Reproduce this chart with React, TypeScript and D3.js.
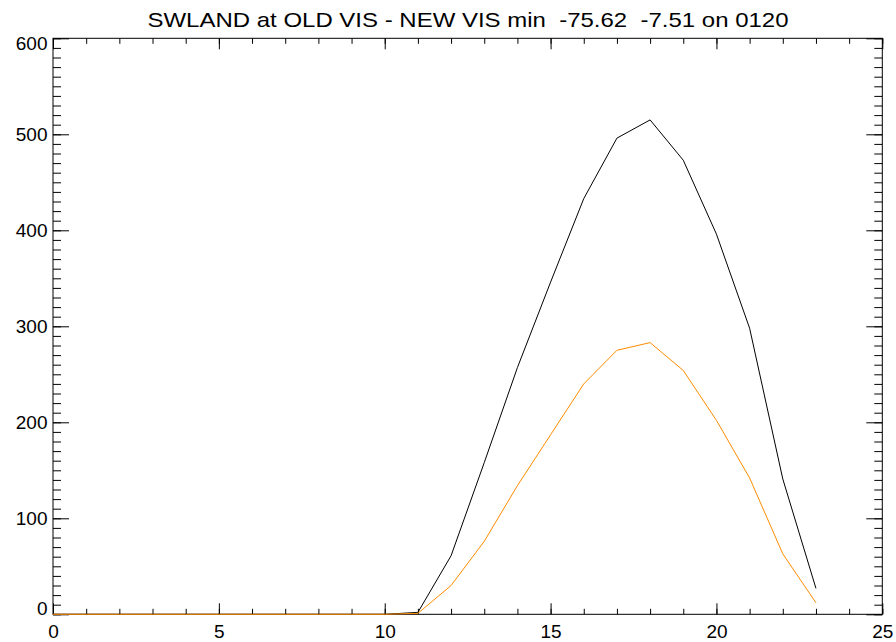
import React, { useEffect, useRef } from 'react';
import * as d3 from 'd3';

// hours 0..23
const hours = d3.range(0, 24);
// OLD VIS (black) and NEW VIS (orange)
const oldVis = [0, 0, 0, 0, 0, 0, 0, 0, 0, 0, 0, 2, 61, 158, 257, 346, 433, 496, 515, 473, 396, 298, 141, 27];
const newVis = [0, 0, 0, 0, 0, 0, 0, 0, 0, 0, 0, 1, 30, 76, 134, 187, 240, 275, 283, 254, 202, 142, 63, 12];

const xMajor = [0, 5, 10, 15, 20, 25];
const yMajor = [0, 100, 200, 300, 400, 500, 600];
const title = 'SWLAND at OLD VIS - NEW VIS min  -75.62  -7.51 on 0120';

const width = 896;
const height = 642;

export default function App() {
  const svgRef = useRef<SVGSVGElement | null>(null);

  useEffect(() => {
    if (!svgRef.current) return;
    const svg = d3.select(svgRef.current);
    svg.selectAll('*').remove();

    const margin = { top: 38.3, right: width - 882.3, bottom: height - 614.3, left: 53 };
    const font = '"Liberation Sans", Arial, Helvetica, sans-serif';

    const x = d3.scaleLinear().domain([0, 25]).range([margin.left, width - margin.right]);
    const y = d3.scaleLinear().domain([0, 600]).range([height - margin.bottom, margin.top]);

    // title (IDL's hershey-ish font is wider, so stretch it)
    svg
      .append('text')
      .attr('x', 468)
      .attr('y', 27)
      .attr('text-anchor', 'middle')
      .attr('font-family', font)
      .attr('font-size', 21)
      .attr('textLength', 641)
      .attr('lengthAdjust', 'spacingAndGlyphs')
      .attr('xml:space', 'preserve')
      .style('white-space', 'pre')
      .text(title);

    const styleAxis = (g: any) => {
      g.select('.domain').remove();
      g.selectAll('line').attr('stroke', '#000');
      g.selectAll('text').attr('font-family', font).attr('font-size', 19).attr('fill', '#000');
    };

    // bottom axis: major + minor
    svg
      .append('g')
      .attr('transform', `translate(0, ${y(0)})`)
      .call(d3.axisBottom(x).tickValues(xMajor).tickSize(-11).tickSizeOuter(0).tickPadding(10.5).tickFormat(d3.format('d')))
      .call(styleAxis);
    svg
      .append('g')
      .attr('transform', `translate(0, ${y(0)})`)
      .call(d3.axisBottom(x).tickValues(d3.range(0, 26)).tickSize(-5.5).tickSizeOuter(0).tickFormat(() => ''))
      .call(styleAxis);

    // top axis (no labels)
    svg
      .append('g')
      .attr('transform', `translate(0, ${y(600)})`)
      .call(d3.axisTop(x).tickValues(xMajor).tickSize(-11).tickSizeOuter(0).tickFormat(() => ''))
      .call(styleAxis);
    svg
      .append('g')
      .attr('transform', `translate(0, ${y(600)})`)
      .call(d3.axisTop(x).tickValues(d3.range(0, 26)).tickSize(-5.5).tickSizeOuter(0).tickFormat(() => ''))
      .call(styleAxis);

    // left axis
    const left = svg
      .append('g')
      .attr('transform', `translate(${x(0)}, 0)`)
      .call(d3.axisLeft(y).tickValues(yMajor).tickSize(-16).tickSizeOuter(0).tickPadding(5.5).tickFormat(d3.format('d')))
      .call(styleAxis);
    // nudge end labels like the original
    left.selectAll('text').attr('dy', (d: any) => (d === 0 ? '0.0em' : d === 600 ? '0.6em' : '0.35em'));
    svg
      .append('g')
      .attr('transform', `translate(${x(0)}, 0)`)
      .call(d3.axisLeft(y).tickValues(d3.range(0, 601, 10)).tickSize(-8).tickSizeOuter(0).tickFormat(() => ''))
      .call(styleAxis);

    // right axis (no labels)
    svg
      .append('g')
      .attr('transform', `translate(${x(25)}, 0)`)
      .call(d3.axisRight(y).tickValues(yMajor).tickSize(-16).tickSizeOuter(0).tickFormat(() => ''))
      .call(styleAxis);
    svg
      .append('g')
      .attr('transform', `translate(${x(25)}, 0)`)
      .call(d3.axisRight(y).tickValues(d3.range(0, 601, 10)).tickSize(-8).tickSizeOuter(0).tickFormat(() => ''))
      .call(styleAxis);

    // frame
    svg
      .append('rect')
      .attr('x', x(0))
      .attr('y', y(600))
      .attr('width', x(25) - x(0))
      .attr('height', y(0) - y(600))
      .attr('fill', 'none')
      .attr('stroke', '#000')
      .attr('stroke-width', 1);

    const line = d3
      .line<number>()
      .x((_d, i) => x(hours[i]))
      .y((d) => y(d));

    svg.append('path').datum(oldVis).attr('fill', 'none').attr('stroke', '#000').attr('stroke-width', 1).attr('d', line);
    svg.append('path').datum(newVis).attr('fill', 'none').attr('stroke', '#ff8c00').attr('stroke-width', 1).attr('d', line);
  }, []);

  return (
    <svg
      ref={svgRef}
      width={width}
      height={height}
      style={{ position: 'fixed', left: 0, top: 0, background: '#fff' }}
    ></svg>
  );
}
